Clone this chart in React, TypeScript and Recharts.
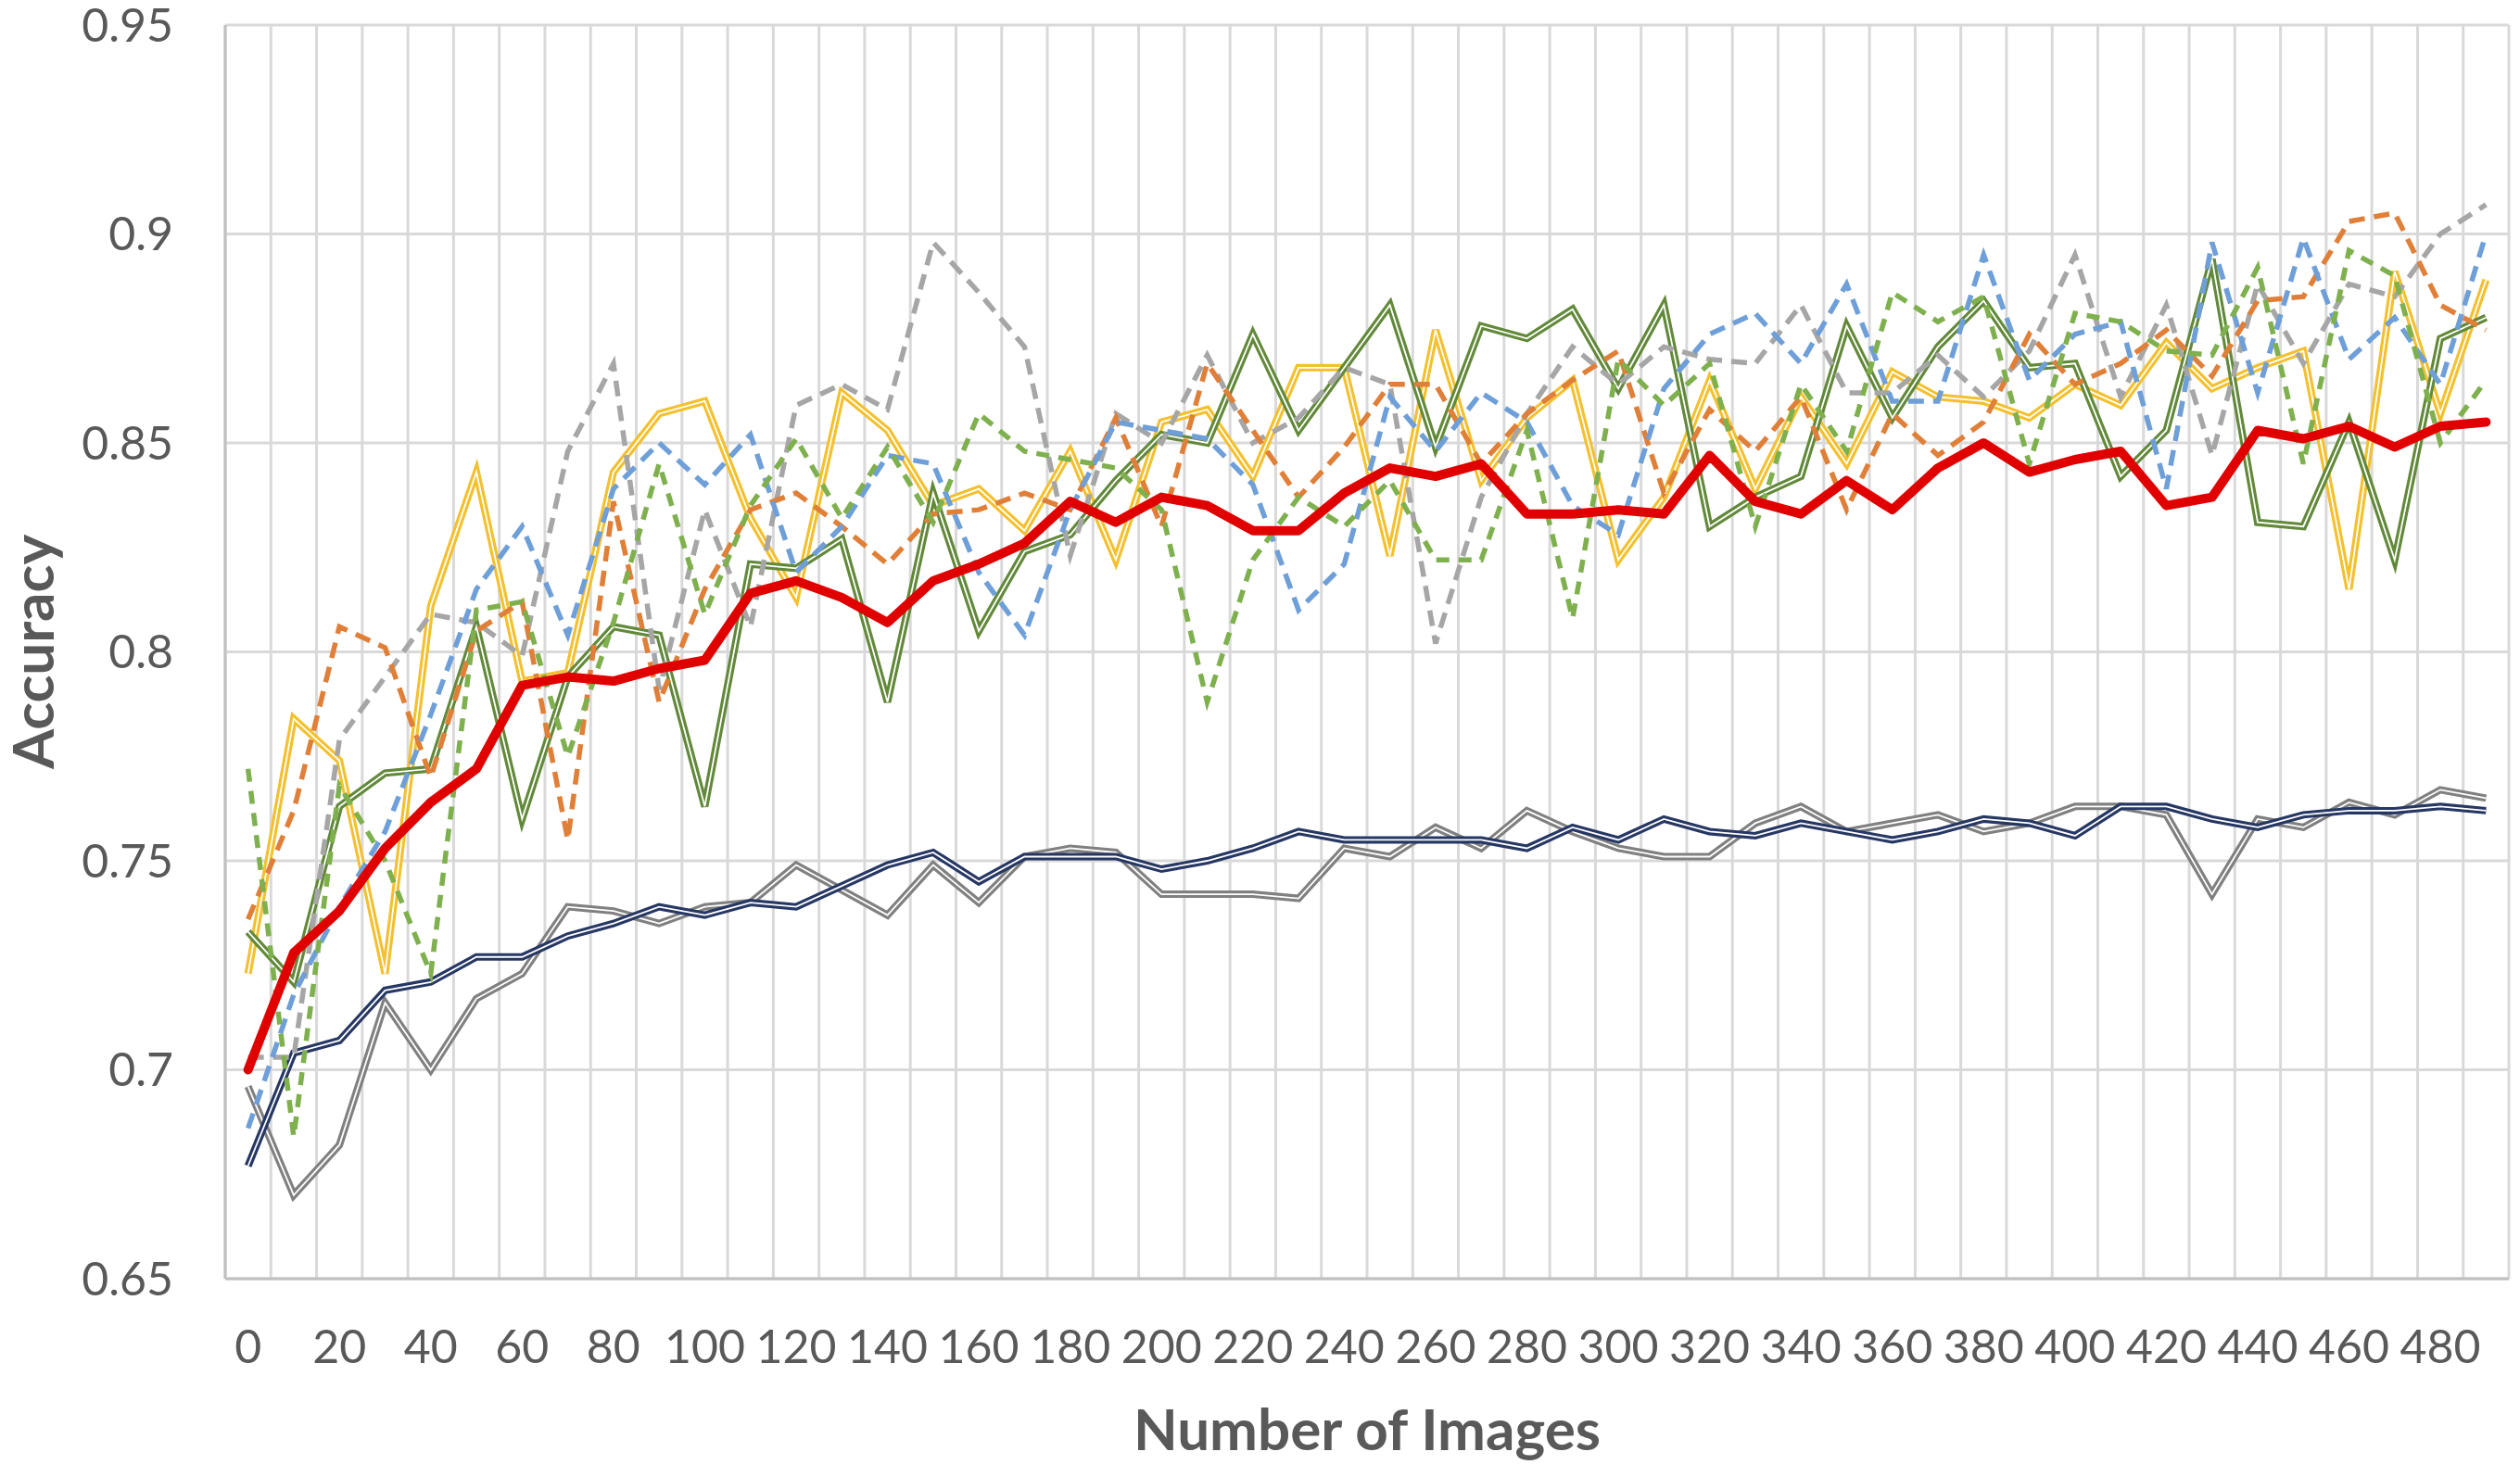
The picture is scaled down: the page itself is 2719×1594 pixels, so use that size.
import { LineChart, Line, XAxis, YAxis, CartesianGrid, Label } from "recharts";

const imageCounts = Array.from({ length: 50 }, (_, i) => i * 10);

// one value per image count
const grayDashed = [0.703, 0.703, 0.779, 0.794, 0.809, 0.807, 0.799, 0.848, 0.869, 0.791, 0.834, 0.806, 0.859, 0.864, 0.858, 0.898, 0.886, 0.873, 0.823, 0.857, 0.85, 0.871, 0.85, 0.856, 0.868, 0.864, 0.802, 0.837, 0.857, 0.873, 0.864, 0.873, 0.87, 0.869, 0.883, 0.862, 0.862, 0.871, 0.861, 0.872, 0.895, 0.861, 0.883, 0.847, 0.888, 0.869, 0.888, 0.885, 0.9, 0.907];
const orangeDashed = [0.736, 0.762, 0.806, 0.801, 0.77, 0.805, 0.812, 0.755, 0.836, 0.788, 0.815, 0.834, 0.838, 0.83, 0.821, 0.833, 0.834, 0.838, 0.834, 0.856, 0.83, 0.869, 0.853, 0.837, 0.849, 0.864, 0.864, 0.845, 0.857, 0.865, 0.872, 0.838, 0.858, 0.848, 0.861, 0.834, 0.857, 0.847, 0.855, 0.876, 0.864, 0.869, 0.877, 0.866, 0.884, 0.885, 0.903, 0.905, 0.883, 0.877];
const blueDashed = [0.686, 0.718, 0.739, 0.757, 0.785, 0.815, 0.83, 0.804, 0.839, 0.85, 0.84, 0.852, 0.819, 0.83, 0.847, 0.845, 0.819, 0.804, 0.834, 0.855, 0.853, 0.851, 0.84, 0.81, 0.821, 0.861, 0.848, 0.862, 0.855, 0.835, 0.828, 0.863, 0.876, 0.881, 0.869, 0.888, 0.86, 0.86, 0.895, 0.865, 0.876, 0.879, 0.839, 0.898, 0.862, 0.899, 0.87, 0.88, 0.864, 0.9];
const greenDashed = [0.772, 0.684, 0.768, 0.75, 0.723, 0.81, 0.812, 0.775, 0.807, 0.845, 0.809, 0.835, 0.851, 0.832, 0.849, 0.831, 0.857, 0.848, 0.846, 0.844, 0.834, 0.788, 0.822, 0.837, 0.83, 0.841, 0.822, 0.822, 0.853, 0.808, 0.87, 0.859, 0.869, 0.83, 0.864, 0.848, 0.886, 0.879, 0.885, 0.845, 0.881, 0.879, 0.872, 0.871, 0.892, 0.845, 0.896, 0.89, 0.85, 0.865];
const yellowDouble = [0.723, 0.784, 0.774, 0.723, 0.811, 0.843, 0.793, 0.795, 0.843, 0.857, 0.86, 0.832, 0.813, 0.862, 0.853, 0.835, 0.839, 0.829, 0.848, 0.822, 0.855, 0.858, 0.842, 0.868, 0.868, 0.823, 0.877, 0.841, 0.856, 0.865, 0.822, 0.837, 0.865, 0.839, 0.861, 0.845, 0.867, 0.861, 0.86, 0.856, 0.864, 0.859, 0.874, 0.863, 0.868, 0.872, 0.815, 0.891, 0.857, 0.889];
const greenDouble = [0.733, 0.721, 0.763, 0.771, 0.772, 0.806, 0.76, 0.794, 0.806, 0.804, 0.763, 0.821, 0.82, 0.827, 0.788, 0.838, 0.805, 0.824, 0.828, 0.841, 0.852, 0.85, 0.876, 0.853, 0.868, 0.883, 0.849, 0.878, 0.875, 0.882, 0.863, 0.883, 0.83, 0.837, 0.842, 0.878, 0.856, 0.873, 0.884, 0.868, 0.869, 0.842, 0.853, 0.894, 0.831, 0.83, 0.855, 0.822, 0.875, 0.88];
const grayDouble = [0.696, 0.67, 0.682, 0.716, 0.7, 0.717, 0.723, 0.739, 0.738, 0.735, 0.739, 0.74, 0.749, 0.743, 0.737, 0.749, 0.74, 0.751, 0.753, 0.752, 0.742, 0.742, 0.742, 0.741, 0.753, 0.751, 0.758, 0.753, 0.762, 0.757, 0.753, 0.751, 0.751, 0.759, 0.763, 0.757, 0.759, 0.761, 0.757, 0.759, 0.763, 0.763, 0.761, 0.742, 0.76, 0.758, 0.764, 0.761, 0.767, 0.765];
const navyDouble = [0.677, 0.704, 0.707, 0.719, 0.721, 0.727, 0.727, 0.732, 0.735, 0.739, 0.737, 0.74, 0.739, 0.744, 0.749, 0.752, 0.745, 0.751, 0.751, 0.751, 0.748, 0.75, 0.753, 0.757, 0.755, 0.755, 0.755, 0.755, 0.753, 0.758, 0.755, 0.76, 0.757, 0.756, 0.759, 0.757, 0.755, 0.757, 0.76, 0.759, 0.756, 0.763, 0.763, 0.76, 0.758, 0.761, 0.762, 0.762, 0.763, 0.762];
const average = [0.7, 0.728, 0.738, 0.753, 0.764, 0.772, 0.792, 0.794, 0.793, 0.796, 0.798, 0.814, 0.817, 0.813, 0.807, 0.817, 0.821, 0.826, 0.836, 0.831, 0.837, 0.835, 0.829, 0.829, 0.838, 0.844, 0.842, 0.845, 0.833, 0.833, 0.834, 0.833, 0.847, 0.836, 0.833, 0.841, 0.834, 0.844, 0.85, 0.843, 0.846, 0.848, 0.835, 0.837, 0.853, 0.851, 0.854, 0.849, 0.854, 0.855];

const xTicks = imageCounts.filter((v) => v % 20 === 0);
const gridTicks = [...imageCounts.map((v) => v - 5), 495];
const yTicks = [0.65, 0.7, 0.75, 0.8, 0.85, 0.9, 0.95];

const data = imageCounts.map((x, i) => ({
  x,
  grayDashed: grayDashed[i],
  orangeDashed: orangeDashed[i],
  blueDashed: blueDashed[i],
  greenDashed: greenDashed[i],
  yellowDouble: yellowDouble[i],
  greenDouble: greenDouble[i],
  grayDouble: grayDouble[i],
  navyDouble: navyDouble[i],
  average: average[i],
}));

const tickStyle = { fontSize: 50, fill: "#595959", fontFamily: "Lato, 'Open Sans', sans-serif" };
const titleStyle = { fontSize: 62, fontWeight: 700, fill: "#595959", fontFamily: "Lato, 'Open Sans', sans-serif" };

const doubles = [
  { key: "yellowDouble", color: "#f4c02d" },
  { key: "greenDouble", color: "#62893a" },
  { key: "grayDouble", color: "#808080" },
  { key: "navyDouble", color: "#263763" },
];

const dashed = [
  { key: "grayDashed", color: "#a6a6a6", dash: "17 10" },
  { key: "orangeDashed", color: "#e07f38", dash: "17 10" },
  { key: "blueDashed", color: "#6e9fd8", dash: "17 10" },
  { key: "greenDashed", color: "#7fb04e", dash: "14 10" },
];

function YTitle(props: any) {
  const vb = props.viewBox;
  const cy = vb.y + vb.height / 2;
  return (
    <text x={34} y={cy} transform={`rotate(-90 34 ${cy})`} textAnchor="middle" dominantBaseline="central" style={titleStyle}>
      Accuracy
    </text>
  );
}

export default function App() {
  return (
    <div style={{ position: "absolute", left: 0, top: 0, width: 2719, height: 1594, background: "#fff" }}>
      <LineChart width={2719} height={1594} data={data} margin={{ top: 27, right: 12, bottom: 0, left: 0 }}>
        <XAxis xAxisId="grid" type="number" dataKey="x" domain={[-5, 495]} ticks={gridTicks} hide />
        <CartesianGrid xAxisId="grid" stroke="#d9d9d9" strokeWidth={3} />
        <XAxis
          type="number"
          dataKey="x"
          domain={[-5, 495]}
          ticks={xTicks}
          interval={0}
          height={214}
          tick={tickStyle}
          tickLine={false}
          tickSize={0}
          tickMargin={55}
          axisLine={{ stroke: "#c0c0c0", strokeWidth: 3 }}
        >
          <Label value="Number of Images" position="insideBottom" offset={29} style={titleStyle} />
        </XAxis>
        <YAxis
          type="number"
          domain={[0.65, 0.95]}
          ticks={yTicks}
          interval={0}
          width={243}
          tick={tickStyle}
          tickFormatter={(v: number) => String(Number(v.toFixed(2)))}
          tickLine={false}
          tickSize={0}
          tickMargin={56}
          axisLine={{ stroke: "#c0c0c0", strokeWidth: 3 }}
        >
          <Label content={<YTitle />} />
        </YAxis>
        {doubles.map((d) => [
          <Line
            key={d.key}
            dataKey={d.key}
            stroke={d.color}
            strokeWidth={8}
            dot={false}
            activeDot={false}
            strokeLinejoin="miter"
            isAnimationActive={false}
          />,
          <Line
            key={d.key + "-inner"}
            dataKey={d.key}
            stroke="#ffffff"
            strokeWidth={1.8}
            dot={false}
            activeDot={false}
            strokeLinejoin="miter"
            isAnimationActive={false}
          />,
        ])}
        {dashed.map((d) => (
          <Line
            key={d.key}
            dataKey={d.key}
            stroke={d.color}
            strokeWidth={5.5}
            strokeDasharray={d.dash}
            dot={false}
            activeDot={false}
            isAnimationActive={false}
          />
        ))}
        <Line
          dataKey="average"
          stroke="#e10000"
          strokeWidth={10}
          strokeLinecap="round"
          strokeLinejoin="round"
          dot={false}
          activeDot={false}
          isAnimationActive={false}
        />
      </LineChart>
    </div>
  );
}
